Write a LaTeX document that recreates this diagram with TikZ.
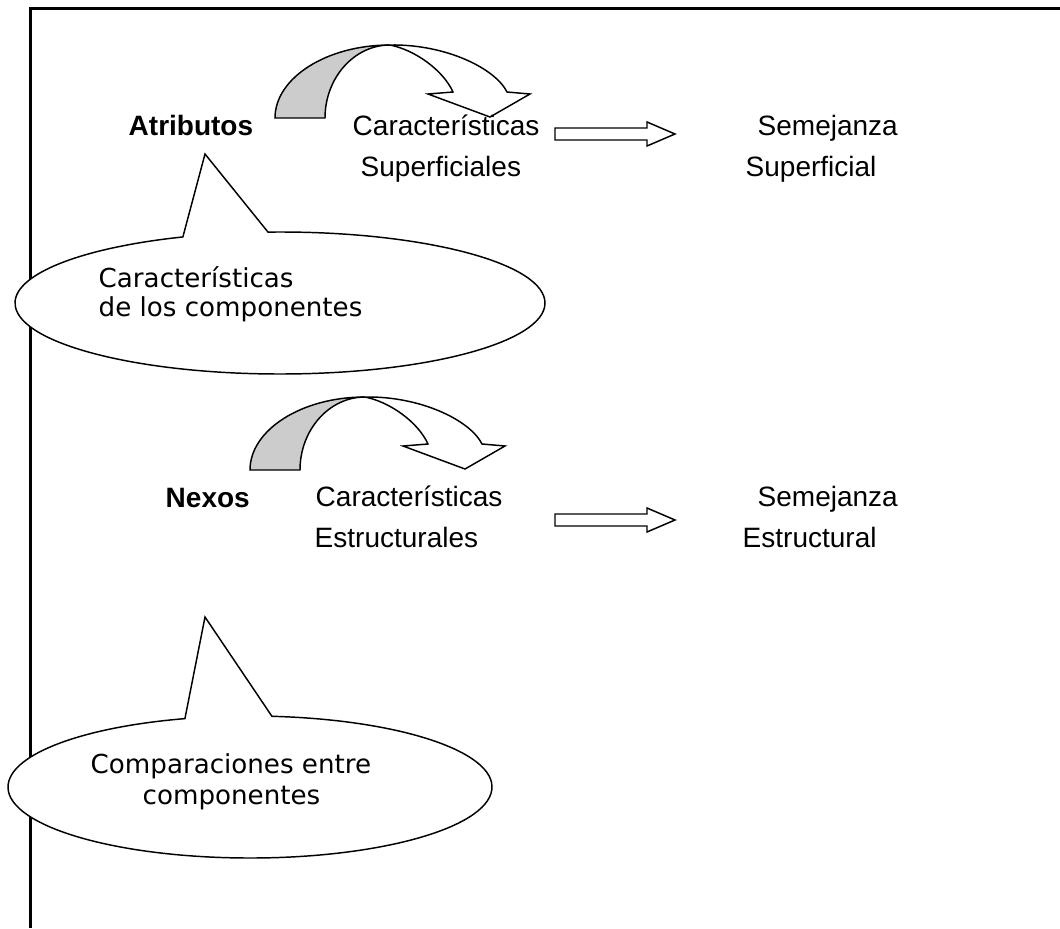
\documentclass[tikz,border=0pt]{standalone}
\usepackage{fontspec}
\setmainfont{Liberation Sans}
\newfontfamily\verd{DejaVu Sans}
\usetikzlibrary{calc}
\begin{document}
\begin{tikzpicture}[x=0.75pt,y=-0.75pt, line width=1.1pt, line join=miter,
  lbl/.style={anchor=base west, inner sep=0pt, font=\fontsize{21}{25}\selectfont},
  lblb/.style={anchor=base west, inner sep=0pt, font=\fontsize{21}{25}\selectfont\bfseries},
  clt/.style={anchor=base west, inner sep=0pt, font=\verd\fontsize{19.6}{24}\selectfont},
  callout/.style={draw=black, fill=white},
  grayband/.style={draw=black, fill={rgb,255:red,204;green,204;blue,204}},
  pageframe/.style={line width=2.25pt},
  curvedarrow/.pic={
    \draw[grayband] (0,0) .. controls (0,-40) and (51.5,-73) .. (115,-73)
       .. controls (79,-73) and (50,-40) .. (50,0) -- cycle;
    \draw[callout] (115,-73) .. controls (170,-74) and (220,-50) .. (232,-26)
       -- (255,-24) -- (215,-1) -- (153,-24) -- (178,-26)
       .. controls (168,-48) and (140,-68) .. (115,-73) -- cycle;
  },
  blockarrow/.pic={
    \draw[callout] (0,-6) -- (92,-6) -- (92,-12) -- (120,0) -- (92,12) -- (92,6) -- (0,6) -- cycle;
  }]
\useasboundingbox (0,0) rectangle (1060,928);
\draw[pageframe] (1060,8.5) -- (30,8.5) -- (30,928);

% callout shapes
\coordinate (tip1) at (205,154);
\coordinate (tip2) at (205,617);
\draw[callout] ($(280,303)+(-92.6:265 and 71)$) arc[start angle=-92.6, end angle=248.5, x radius=265, y radius=71] -- (tip1) -- cycle;
\draw[callout] ($(250,787)+(-84.8:242 and 71)$) arc[start angle=-84.8, end angle=254.4, x radius=242, y radius=71] -- (tip2) -- cycle;

% curved arrows
\pic (ca1) at (275,118) {curvedarrow};
\pic (ca2) at (250,470) {curvedarrow};

% block arrows
\coordinate (ba1) at (555,134);
\coordinate (ba2) at (555,520);
\pic at (ba1) {blockarrow};
\pic at (ba2) {blockarrow};

% labels
\node[lblb] (atr) at (128,135) {Atributos};
\node[lbl] (car1) at (352,135) {Características};
\node[lbl] (sup1) at (360,176) {Superficiales};
\node[lbl] (sem1) at (757,135) {Semejanza};
\node[lbl] (sup2) at (745,176) {Superficial};

\node[lblb] (nex) at (165,507) {Nexos};
\node[lbl] (car2) at (315,506) {Características};
\node[lbl] (est1) at (314,547) {Estructurales};
\node[lbl] (sem2) at (757,506) {Semejanza};
\node[lbl] (est2) at (742,547) {Estructural};

\node[clt] (c1a) at (98,287) {Características};
\node[clt] (c1b) at (98,316) {de los componentes};
\node[clt] (c2a) at (90,773) {Comparaciones entre};
\node[clt] (c2b) at (142,804) {componentes};
\end{tikzpicture}
\end{document}
